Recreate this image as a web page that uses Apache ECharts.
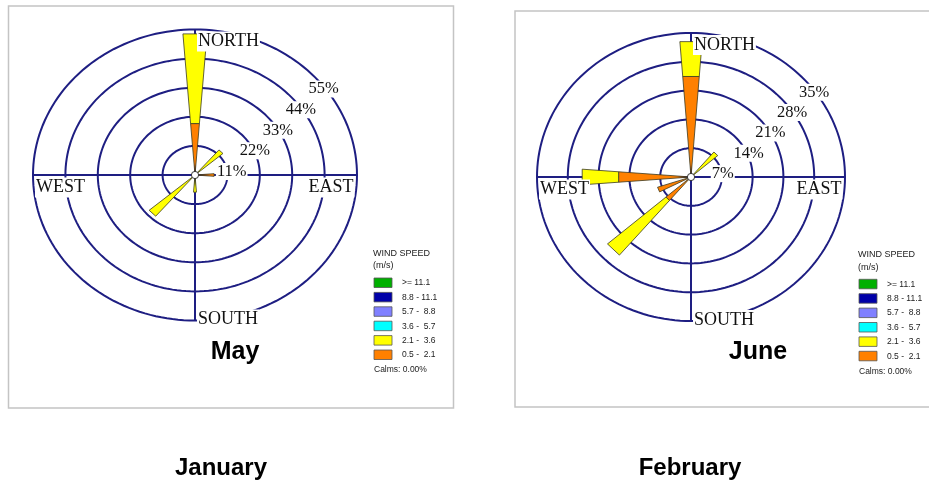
<!DOCTYPE html>
<html>
<head>
<meta charset="utf-8">
<script src="https://cdn.jsdelivr.net/npm/echarts@6/dist/echarts.min.js"></script>
<style>
  html, body { margin: 0; padding: 0; background: #fff; }
  #chart { width: 929px; height: 486px; }
</style>
</head>
<body>
<div id="chart"></div>
<script>
// Compass sectors, clockwise from north
const directions = ['N', 'NNE', 'NE', 'ENE', 'E', 'ESE', 'SE', 'SSE', 'S', 'SSW', 'SW', 'WSW', 'W', 'WNW', 'NW', 'NNW'];

// Wind speed classes (m/s) and their colours
const speedBins = ['>= 11.1', '8.8 - 11.1', '5.7 -  8.8', '3.6 -  5.7', '2.1 -  3.6', '0.5 -  2.1'];
const speedColors = ['#00b000', '#0000a8', '#8080ff', '#00ffff', '#ffff00', '#ff8000'];

// Frequency (%) per direction — May
const may_05_21 = [19.5, 0, 0, 0, 6.5, 0, 0, 0, 0, 0, 0, 0, 0, 0, 0, 0];
const may_21_36 = [34, 0, 12.5, 0, 0, 0, 0, 0, 6.5, 0, 20.5, 0, 0, 0, 0, 0];

// Frequency (%) per direction — June
const june_05_21 = [24.5, 0, 0, 0, 0, 0, 0, 0, 0, 0, 7.5, 8, 16.5, 0, 0, 0];
const june_21_36 = [8.5, 0, 8, 0, 0, 0, 0, 0, 0, 0, 17.5, 0, 8.3, 0, 0, 0];

// Ring values (%)
const mayRings = [11, 22, 33, 44, 55];
const juneRings = [7, 14, 21, 28, 35];

const compassLabels = ['NORTH', 'EAST', 'SOUTH', 'WEST'];
const panelTitles = ['May', 'June'];
const monthLabels = ['January', 'February'];
const calmsText = 'Calms: 0.00%';

const RING_COLOR = '#1e1e82';
const SERIF = '"Liberation Serif", "Times New Roman", serif';
const SANS = '"Liberation Sans", Arial, sans-serif';
const HALF_WIDTH = 4.4 * Math.PI / 180;
const DEG = Math.PI / 180;

// Stack the two speed classes into petal segments: [dir, r0, r1, bin]
function buildPetals(low, high) {
  const out = [];
  directions.forEach((d, i) => {
    const a = low[i], b = high[i];
    if (a > 0) out.push([i, 0, a, 5]);
    if (b > 0) out.push([i, a, a + b, 4]);
  });
  return out;
}

function ringRender(params, api) {
  const v = api.value(0);
  const pts = [];
  for (let k = 0; k <= 180; k++) {
    const a = k * 2 * DEG;
    pts.push(api.coord([v * Math.cos(a), v * Math.sin(a)]));
  }
  return { type: 'polyline', shape: { points: pts }, style: { stroke: RING_COLOR, lineWidth: 2, fill: null } };
}

function crossRender(max) {
  return function (params, api) {
    const l = api.coord([-max, 0]), r = api.coord([max, 0]);
    const t = api.coord([0, max]), b = api.coord([0, -max]);
    return {
      type: 'group', children: [
        { type: 'line', shape: { x1: l[0], y1: l[1], x2: r[0], y2: r[1] }, style: { stroke: RING_COLOR, lineWidth: 2 } },
        { type: 'line', shape: { x1: t[0], y1: t[1], x2: b[0], y2: b[1] }, style: { stroke: RING_COLOR, lineWidth: 2 } }
      ]
    };
  };
}

function petalRender(params, api) {
  const dir = api.value(0), r0 = api.value(1), r1 = api.value(2), bin = api.value(3);
  const th = dir * 22.5 * DEG;
  const pt = (r, a) => api.coord([r * Math.sin(a), r * Math.cos(a)]);
  return {
    type: 'polygon',
    shape: { points: [pt(r0, th - HALF_WIDTH), pt(r1, th - HALF_WIDTH), pt(r1, th + HALF_WIDTH), pt(r0, th + HALF_WIDTH)] },
    style: { fill: speedColors[bin], stroke: '#3a3a22', lineWidth: 0.8 }
  };
}

function ringLabelRender(params, api) {
  const v = api.value(0);
  const p = api.coord([v * Math.SQRT1_2, v * Math.SQRT1_2]);
  return {
    type: 'text', x: p[0] - 2, y: p[1] + 17,
    style: {
      text: v + '%', fontFamily: SERIF, fontSize: 16.5, fill: '#111',
      align: 'left', verticalAlign: 'middle', backgroundColor: '#fff', padding: [0, 1]
    }
  };
}

function compassRender(max) {
  return function (params, api) {
    const idx = params.dataIndex;
    const name = compassLabels[idx];
    let p, x, y, align;
    if (name === 'NORTH') { p = api.coord([0, max]); x = p[0] + 2; y = p[1] + 12; align = 'left'; }
    else if (name === 'SOUTH') { p = api.coord([0, -max]); x = p[0] + 2; y = p[1] - 1; align = 'left'; }
    else if (name === 'WEST') { p = api.coord([-max, 0]); x = p[0] + 2; y = p[1] + 12.5; align = 'left'; }
    else { p = api.coord([max, 0]); x = p[0] - 2.5; y = p[1] + 12.5; align = 'right'; }
    return {
      type: 'text', x: x, y: y,
      style: {
        text: name, fontFamily: SERIF, fontSize: 18, fill: '#111',
        align: align, verticalAlign: 'middle', backgroundColor: '#fff', padding: [1, 1]
      }
    };
  };
}

function centerRender(params, api) {
  const c = api.coord([0, 0]);
  return { type: 'circle', shape: { cx: c[0], cy: c[1], r: 3.6 }, style: { fill: '#fff', stroke: '#333', lineWidth: 1 } };
}

function roseSeries(idx, rings, low, high) {
  const max = rings[rings.length - 1];
  const common = { type: 'custom', coordinateSystem: 'cartesian2d', xAxisIndex: idx, yAxisIndex: idx, silent: true, animation: false, clip: false };
  return [
    Object.assign({}, common, { z: 2, renderItem: ringRender, data: rings.map(v => [v]) }),
    Object.assign({}, common, { z: 2, renderItem: crossRender(max), data: [[0]] }),
    Object.assign({}, common, { z: 3, renderItem: petalRender, data: buildPetals(low, high) }),
    Object.assign({}, common, { z: 4, renderItem: ringLabelRender, data: rings.map(v => [v]) }),
    Object.assign({}, common, { z: 4, renderItem: compassRender(max), data: compassLabels.map((n, i) => [i]) }),
    Object.assign({}, common, { z: 5, renderItem: centerRender, data: [[0]] })
  ];
}

function legendGraphics(xBox, yTop, xLabel) {
  const g = [];
  g.push({ type: 'text', left: xBox - 1, top: yTop - 29, style: { text: 'WIND SPEED', font: '9px ' + SANS, fill: '#222' } });
  g.push({ type: 'text', left: xBox - 1, top: yTop - 16.5, style: { text: '(m/s)', font: '9px ' + SANS, fill: '#222' } });
  speedBins.forEach((lab, i) => {
    const y = yTop + i * 14.4;
    g.push({ type: 'rect', shape: { x: xBox, y: y, width: 18, height: 9.5 }, style: { fill: speedColors[i], stroke: '#555', lineWidth: 0.8 } });
    g.push({ type: 'text', x: xLabel, y: y + 5, style: { text: lab, font: '8.5px ' + SANS, fill: '#222', textVerticalAlign: 'middle' } });
  });
  g.push({ type: 'text', x: xBox, y: yTop + 92, style: { text: calmsText, font: '8.5px ' + SANS, fill: '#222', textVerticalAlign: 'middle' } });
  return g;
}

const graphics = [
  { type: 'rect', shape: { x: 8.5, y: 6, width: 445, height: 402 }, style: { fill: null, stroke: '#c4c4c4', lineWidth: 1.5 }, z: 0 },
  { type: 'rect', shape: { x: 515, y: 11, width: 430, height: 396 }, style: { fill: null, stroke: '#c4c4c4', lineWidth: 1.5 }, z: 0 },
  { type: 'text', x: 235, y: 352, style: { text: panelTitles[0], font: 'bold 25px ' + SANS, fill: '#000', textAlign: 'center', textVerticalAlign: 'middle' } },
  { type: 'text', x: 758, y: 352, style: { text: panelTitles[1], font: 'bold 25px ' + SANS, fill: '#000', textAlign: 'center', textVerticalAlign: 'middle' } },
  { type: 'text', x: 221, y: 468, style: { text: monthLabels[0], font: 'bold 24px ' + SANS, fill: '#000', textAlign: 'center', textVerticalAlign: 'middle' } },
  { type: 'text', x: 690, y: 468, style: { text: monthLabels[1], font: 'bold 24px ' + SANS, fill: '#000', textAlign: 'center', textVerticalAlign: 'middle' } }
].concat(legendGraphics(374, 278, 402), legendGraphics(859, 279.3, 887));

const chart = echarts.init(document.getElementById('chart'), null, { renderer: 'canvas' });
chart.setOption({
  animation: false,
  backgroundColor: '#fff',
  grid: [
    { left: 33, top: 29.5, width: 324, height: 291 },
    { left: 537, top: 33, width: 308, height: 288 }
  ],
  xAxis: [
    { type: 'value', gridIndex: 0, min: -55, max: 55, show: false },
    { type: 'value', gridIndex: 1, min: -35, max: 35, show: false }
  ],
  yAxis: [
    { type: 'value', gridIndex: 0, min: -55, max: 55, show: false },
    { type: 'value', gridIndex: 1, min: -35, max: 35, show: false }
  ],
  graphic: graphics,
  series: roseSeries(0, mayRings, may_05_21, may_21_36).concat(roseSeries(1, juneRings, june_05_21, june_21_36))
});
</script>
</body>
</html>
